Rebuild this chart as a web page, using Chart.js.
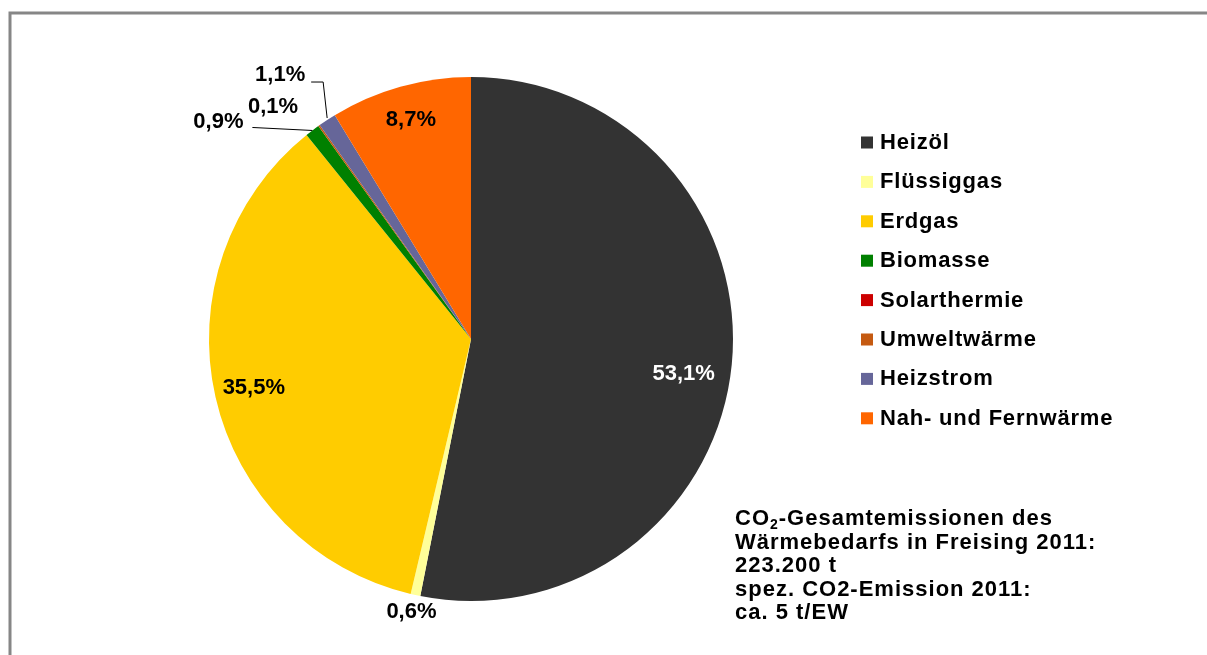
<!DOCTYPE html>
<html>
<head>
<meta charset="utf-8">
<script src="https://cdn.jsdelivr.net/npm/chart.js@4/dist/chart.umd.min.js"></script>
<style>
  html, body { margin: 0; padding: 0; background: #fff; }
  #wrap { width: 1207px; height: 655px; position: relative; }
</style>
</head>
<body>
<div id="wrap"><canvas id="pie-canvas" width="1207" height="655"></canvas></div>
<script>
var categories = ['Heizöl', 'Flüssiggas', 'Erdgas', 'Biomasse', 'Solarthermie', 'Umweltwärme', 'Heizstrom', 'Nah- und Fernwärme'];
var shares = [53.1, 0.6, 35.5, 0.9, 0.0, 0.1, 1.1, 8.7];
var colors = ['#333333', '#FFFF99', '#FFCC00', '#008000', '#CC0000', '#C55A11', '#666699', '#FF6600'];
var noteLines = ['CO₂-Gesamtemissionen des', 'Wärmebedarfs in Freising 2011:', '223.200 t', 'spez. CO2-Emission 2011:', 'ca. 5 t/EW'];

var FAMILY = '"Liberation Sans", Arial, sans-serif';
var FONT = 'bold 22px ' + FAMILY;

function pct(v) {
  return v.toFixed(1).replace('.', ',') + '%';
}

// nudges for the big labels, which sit inside their slice
var inside = {
  0: { dx: -9, dy: 13 },
  2: { dx: 0, dy: 0 },
  7: { dx: 0, dy: -5 }
};

// where the small slices put their labels (offset from the slice's outer edge)
var outside = {
  1: { dx: -4, dy: 17 },
  3: { dx: -94, dy: -9, leader: [[-60, -3], [0, 0]] },
  5: { dx: -46, dy: -19 },
  6: { dx: -47, dy: -45, leader: [[-16, -38], [-4, -38], [0, -2]] }
};

var labelPlugin = {
  id: 'sliceLabels',
  afterDatasetsDraw: function(chart) {
    var ctx = chart.ctx;
    var meta = chart.getDatasetMeta(0);
    ctx.save();
    ctx.font = FONT;
    ctx.textAlign = 'center';
    ctx.textBaseline = 'middle';
    meta.data.forEach(function(arc, i) {
      var v = shares[i];
      if (!v) return;
      var p = arc.getProps(['x', 'y', 'startAngle', 'endAngle', 'outerRadius'], true);
      var mid = (p.startAngle + p.endAngle) / 2;
      var R = p.outerRadius;
      var ex = p.x + Math.cos(mid) * R;
      var ey = p.y + Math.sin(mid) * R;
      var txt = pct(v);
      if (v > 5) {
        var n = inside[i];
        ctx.fillStyle = i === 0 ? '#ffffff' : '#000000';
        ctx.fillText(txt, p.x + Math.cos(mid) * R * 0.85 + n.dx, p.y + Math.sin(mid) * R * 0.85 + n.dy);
        return;
      }
      var o = outside[i];
      if (o.leader) {
        ctx.strokeStyle = '#000';
        ctx.lineWidth = 1;
        ctx.beginPath();
        o.leader.forEach(function(pt, k) {
          if (k === 0) ctx.moveTo(ex + pt[0], ey + pt[1]);
          else ctx.lineTo(ex + pt[0], ey + pt[1]);
        });
        ctx.stroke();
      }
      ctx.fillStyle = '#000';
      ctx.fillText(txt, ex + o.dx, ey + o.dy);
    });
    ctx.restore();
  },
  afterDraw: function(chart) {
    var ctx = chart.ctx;
    ctx.save();
    // frame
    ctx.strokeStyle = '#868686';
    ctx.lineWidth = 3;
    ctx.strokeRect(10, 13, 1400, 900);

    // legend
    ctx.font = FONT;
    ctx.letterSpacing = '0.8px';
    ctx.textAlign = 'left';
    ctx.textBaseline = 'alphabetic';
    categories.forEach(function(name, i) {
      var yc = 141 + i * 39.4;
      ctx.fillStyle = colors[i];
      ctx.fillRect(861, yc - 4.5, 12, 12);
      ctx.fillStyle = '#000';
      ctx.fillText(name, 880, yc + 8);
    });

    // note text
    ctx.letterSpacing = '1px';
    noteLines.forEach(function(line, i) {
      var y = 525 + i * 23.6;
      var parts = line.split('₂');
      var x = 735;
      ctx.font = FONT;
      ctx.fillText(parts[0], x, y);
      if (parts.length > 1) {
        x += ctx.measureText(parts[0]).width;
        ctx.font = 'bold 14px ' + FAMILY;
        ctx.fillText('2', x, y + 4);
        x += ctx.measureText('2').width;
        ctx.font = FONT;
        ctx.fillText(parts[1], x, y);
      }
    });
    ctx.restore();
  }
};

var ctx = document.getElementById('pie-canvas').getContext('2d');
var chart = new Chart(ctx, {
  type: 'pie',
  data: {
    labels: categories,
    datasets: [{
      data: shares,
      backgroundColor: colors,
      borderWidth: 0
    }]
  },
  options: {
    responsive: false,
    animation: false,
    layout: {
      padding: { left: 209, right: 474, top: 77, bottom: 54 }
    },
    plugins: {
      legend: { display: false },
      tooltip: { enabled: false }
    },
    events: []
  },
  plugins: [labelPlugin]
});
</script>
</body>
</html>
